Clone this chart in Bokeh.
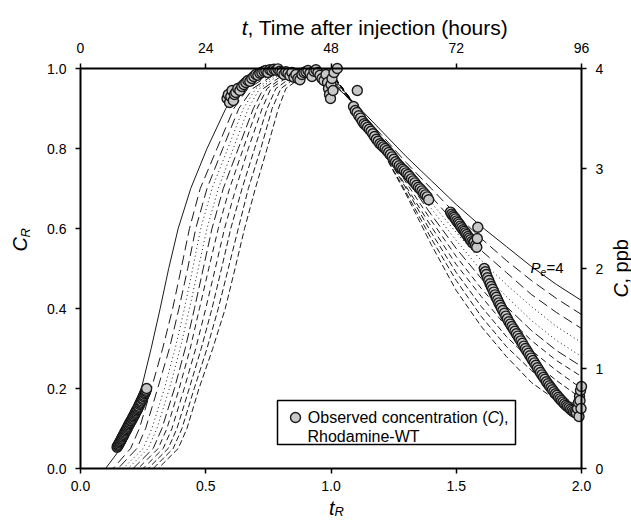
import math
from bokeh.plotting import figure
from bokeh.models import Range1d, LinearAxis, FixedTicker, PrintfTickFormatter, Label
from bokeh.embed import file_html
from bokeh.resources import INLINE

# ---------------- data ----------------
x_ticks = [0.0, 0.5, 1.0, 1.5, 2.0]
y_ticks = [0.0, 0.2, 0.4, 0.6, 0.8, 1.0]
hour_ticks = [0, 24, 48, 72, 96]
ppb_ticks = [0, 1, 2, 3, 4]

# model curves: x position at given C_R levels on the rising limb
rise_levels = [0.0, 0.05, 0.1, 0.2, 0.3, 0.4, 0.5, 0.6, 0.7, 0.8, 0.9, 0.95, 1.0]
rise_x = [
    [0.10, 0.16, 0.195, 0.243, 0.282, 0.318, 0.352, 0.390, 0.440, 0.505, 0.580, 0.645, 0.790],
    [0.13, 0.20, 0.235, 0.283, 0.328, 0.368, 0.402, 0.435, 0.478, 0.545, 0.612, 0.668, 0.800],
    [0.15, 0.225, 0.26, 0.308, 0.355, 0.393, 0.428, 0.460, 0.505, 0.568, 0.632, 0.688, 0.810],
    [0.17, 0.25, 0.285, 0.335, 0.378, 0.415, 0.448, 0.480, 0.525, 0.588, 0.650, 0.700, 0.820],
    [0.19, 0.27, 0.305, 0.355, 0.398, 0.435, 0.470, 0.505, 0.550, 0.610, 0.670, 0.715, 0.830],
    [0.21, 0.29, 0.325, 0.375, 0.418, 0.455, 0.490, 0.525, 0.570, 0.630, 0.690, 0.730, 0.845],
    [0.23, 0.31, 0.345, 0.394, 0.438, 0.475, 0.512, 0.550, 0.595, 0.650, 0.705, 0.745, 0.860],
    [0.25, 0.33, 0.365, 0.414, 0.460, 0.500, 0.538, 0.575, 0.620, 0.670, 0.725, 0.760, 0.875],
    [0.27, 0.35, 0.385, 0.434, 0.482, 0.525, 0.563, 0.600, 0.645, 0.695, 0.745, 0.780, 0.890],
    [0.29, 0.37, 0.405, 0.454, 0.505, 0.550, 0.590, 0.630, 0.670, 0.720, 0.765, 0.800, 0.910],
    [0.31, 0.39, 0.425, 0.473, 0.528, 0.578, 0.617, 0.655, 0.698, 0.745, 0.790, 0.820, 0.930],
]
# falling limb: C_R at fixed t_R
fall_x = [1.0, 1.1, 1.2, 1.3, 1.4, 1.5, 1.6, 1.7, 1.8, 1.9, 2.0]
fall_y = [
    [0.965, 0.91, 0.845, 0.78, 0.72, 0.66, 0.605, 0.555, 0.505, 0.46, 0.42],
    [0.97, 0.905, 0.835, 0.765, 0.70, 0.635, 0.575, 0.52, 0.47, 0.425, 0.385],
    [0.975, 0.905, 0.83, 0.755, 0.68, 0.61, 0.545, 0.49, 0.435, 0.39, 0.35],
    [0.98, 0.905, 0.825, 0.745, 0.665, 0.59, 0.52, 0.46, 0.405, 0.355, 0.315],
    [0.98, 0.905, 0.82, 0.735, 0.65, 0.57, 0.495, 0.43, 0.37, 0.32, 0.28],
    [0.985, 0.905, 0.815, 0.725, 0.635, 0.55, 0.475, 0.405, 0.345, 0.295, 0.255],
    [0.985, 0.905, 0.81, 0.715, 0.62, 0.53, 0.45, 0.38, 0.32, 0.27, 0.23],
    [0.99, 0.905, 0.805, 0.705, 0.605, 0.51, 0.43, 0.355, 0.295, 0.245, 0.20],
    [0.99, 0.905, 0.805, 0.70, 0.59, 0.49, 0.405, 0.33, 0.27, 0.22, 0.175],
    [0.99, 0.905, 0.80, 0.69, 0.575, 0.47, 0.38, 0.305, 0.245, 0.19, 0.15],
    [0.99, 0.905, 0.80, 0.685, 0.56, 0.445, 0.355, 0.28, 0.215, 0.17, 0.13],
]
curve_dash = ["solid", "10 5", "10 5", "1 3", "1 3", "10 4", "6 4", "6 4", "6 3", "6 3", "6 3"]

# observed concentrations (Rhodamine-WT), normalised
obs_a_x = [0.146, 0.148, 0.151, 0.153, 0.156, 0.158, 0.161, 0.163, 0.166, 0.168, 0.171, 0.173, 0.176,
           0.178, 0.181, 0.183, 0.186, 0.188, 0.191, 0.193, 0.196, 0.198, 0.201, 0.203, 0.206, 0.208,
           0.211, 0.213, 0.216, 0.218, 0.221, 0.223, 0.226, 0.228, 0.231, 0.233, 0.236, 0.238, 0.241,
           0.243, 0.246, 0.248, 0.251, 0.253, 0.256, 0.258, 0.260, 0.262, 0.264]
obs_a_y = [0.053, 0.056, 0.058, 0.061, 0.064, 0.067, 0.070, 0.073, 0.076, 0.079, 0.082, 0.085, 0.088,
           0.091, 0.094, 0.097, 0.100, 0.103, 0.106, 0.109, 0.112, 0.115, 0.118, 0.120, 0.123, 0.126,
           0.129, 0.132, 0.135, 0.138, 0.141, 0.144, 0.147, 0.150, 0.153, 0.156, 0.160, 0.163, 0.166,
           0.169, 0.173, 0.176, 0.180, 0.183, 0.187, 0.190, 0.193, 0.196, 0.200]
obs_b_x = [0.585, 0.590, 0.595, 0.600, 0.605, 0.610, 0.615, 0.620,
           0.628, 0.636, 0.644, 0.652, 0.660, 0.668, 0.676, 0.684, 0.692, 0.700, 0.708, 0.716, 0.724,
           0.732, 0.740, 0.748, 0.756, 0.764, 0.772, 0.780, 0.788, 0.796, 0.804, 0.812, 0.820, 0.828,
           0.836, 0.844, 0.852, 0.860, 0.868, 0.876, 0.884, 0.892, 0.900, 0.908, 0.916, 0.924, 0.932,
           0.940, 0.948, 0.956, 0.964, 0.972, 0.980,
           0.986, 0.990, 0.994, 0.998, 1.000, 1.004, 1.008, 1.012, 1.025, 1.105]
obs_b_y = [0.925, 0.935, 0.915, 0.930, 0.945, 0.920, 0.935, 0.940,
           0.950, 0.945, 0.955, 0.960, 0.965, 0.970, 0.968, 0.975, 0.980, 0.985, 0.983, 0.988, 0.990,
           0.993, 0.995, 0.990, 0.997, 0.995, 0.998, 0.996, 0.999, 0.993, 0.990, 0.985, 0.992, 0.988,
           0.982, 0.990, 0.978, 0.985, 0.975, 0.972, 0.985, 0.990, 0.992, 0.995, 0.988, 0.980, 0.993,
           0.997, 0.990, 0.983, 0.975, 0.970, 0.985,
           0.965, 0.950, 0.935, 0.925, 0.960, 0.975, 0.945, 0.990, 1.000, 0.945]
obs_c_x = [1.090, 1.097, 1.104, 1.111, 1.118, 1.125, 1.132, 1.139, 1.146, 1.153, 1.160, 1.167, 1.174,
           1.181, 1.188, 1.195, 1.202, 1.209, 1.216, 1.223, 1.230, 1.237, 1.244, 1.251, 1.258, 1.265,
           1.272, 1.279, 1.286, 1.293, 1.300, 1.307, 1.314, 1.321, 1.328, 1.335, 1.342, 1.349, 1.356,
           1.363, 1.370, 1.377, 1.384, 1.390]
obs_c_y = [0.905, 0.895, 0.890, 0.882, 0.876, 0.868, 0.862, 0.858, 0.853, 0.848, 0.843, 0.837, 0.830,
           0.823, 0.818, 0.812, 0.808, 0.804, 0.800, 0.795, 0.790, 0.785, 0.779, 0.773, 0.767, 0.762,
           0.757, 0.752, 0.748, 0.744, 0.739, 0.735, 0.730, 0.724, 0.719, 0.714, 0.708, 0.703, 0.699,
           0.694, 0.689, 0.684, 0.679, 0.672]
obs_d_x = [1.477, 1.482, 1.487, 1.492, 1.497, 1.502, 1.507, 1.512, 1.517, 1.522, 1.527, 1.532, 1.537,
           1.542, 1.547, 1.552, 1.557, 1.562, 1.567, 1.572, 1.577, 1.582, 1.584, 1.586]
obs_d_y = [0.641, 0.636, 0.632, 0.628, 0.624, 0.619, 0.615, 0.611, 0.606, 0.602, 0.597, 0.593, 0.589,
           0.585, 0.580, 0.576, 0.572, 0.567, 0.563, 0.566, 0.558, 0.553, 0.575, 0.603]
obs_e_x = [1.612, 1.616, 1.620, 1.625, 1.630, 1.635, 1.640, 1.645, 1.650, 1.655, 1.660, 1.665, 1.670,
           1.675, 1.680, 1.686, 1.692, 1.698, 1.704, 1.710, 1.716, 1.722, 1.728, 1.734, 1.740, 1.746,
           1.752, 1.758, 1.764, 1.770, 1.776, 1.782, 1.788, 1.794, 1.800, 1.806, 1.812, 1.818, 1.824,
           1.830, 1.836, 1.842, 1.848, 1.854, 1.860, 1.866, 1.872, 1.878, 1.884, 1.890, 1.896, 1.902,
           1.908, 1.914, 1.920, 1.926, 1.932, 1.938, 1.944, 1.950, 1.956, 1.962, 1.968, 1.974, 1.980,
           1.984, 1.988, 1.992, 1.996, 2.000, 1.994, 1.990, 1.998]
obs_e_y = [0.500, 0.492, 0.485, 0.477, 0.470, 0.462, 0.455, 0.448, 0.441, 0.434, 0.428, 0.421, 0.414,
           0.408, 0.402, 0.395, 0.388, 0.381, 0.374, 0.367, 0.361, 0.355, 0.349, 0.343, 0.337, 0.331,
           0.325, 0.319, 0.313, 0.306, 0.300, 0.294, 0.288, 0.282, 0.276, 0.270, 0.264, 0.258, 0.252,
           0.246, 0.240, 0.234, 0.228, 0.223, 0.217, 0.212, 0.207, 0.202, 0.197, 0.192, 0.187, 0.183,
           0.178, 0.174, 0.170, 0.166, 0.162, 0.158, 0.155, 0.152, 0.148, 0.145, 0.142, 0.140, 0.138,
           0.150, 0.165, 0.180, 0.195, 0.205, 0.170, 0.130, 0.150]

# ---------------- layout (canvas pixels) ----------------
FONT = "Liberation Sans"
W, H = 631, 521
FL, FR, FT, FB = 80, 581, 68, 468          # frame of the chart on the canvas
SX = (FR - FL) / 2.0                        # px per t_R unit
SY = (FB - FT) / 1.0                        # px per C_R unit
HOURS_PER_TR = 48.0
PPB_PER_CR = 4.0

x0, x1 = -FL / SX, (W - FL) / SX
y0, y1 = -(H - FB) / SY, FB / SY

p = figure(width=W, height=H, x_range=Range1d(x0, x1), y_range=Range1d(y0, y1),
           x_axis_type=None, y_axis_type=None, output_backend="svg", toolbar_location=None,
           min_border=0, background_fill_color="white", border_fill_color="white")
p.outline_line_color = None
p.extra_x_ranges = {"hours": Range1d(x0 * HOURS_PER_TR, x1 * HOURS_PER_TR)}
p.extra_y_ranges = {"ppb": Range1d(y0 * PPB_PER_CR, y1 * PPB_PER_CR)}


def style(ax, ticks, fmt, standoff):
    ax.ticker = FixedTicker(ticks=ticks, minor_ticks=[])
    ax.formatter = PrintfTickFormatter(format=fmt)
    ax.major_tick_out = 5
    ax.major_tick_in = 0
    ax.minor_tick_out = 0
    ax.minor_tick_in = 0
    ax.axis_line_width = 2
    ax.axis_line_color = "black"
    ax.major_tick_line_width = 1.5
    ax.major_tick_line_color = "black"
    ax.major_label_text_font = FONT
    ax.major_label_text_font_size = "14px"
    ax.major_label_text_color = "black"
    ax.major_label_standoff = standoff


ax_b = LinearAxis(fixed_location=0.0, bounds=(x_ticks[0], x_ticks[-1]))
style(ax_b, x_ticks, "%.1f", 7)
p.add_layout(ax_b, "below")
ax_l = LinearAxis(fixed_location=0.0, bounds=(y_ticks[0], y_ticks[-1]))
style(ax_l, y_ticks, "%.1f", 9)
p.add_layout(ax_l, "left")
ax_t = LinearAxis(x_range_name="hours", fixed_location=1.0, bounds=(hour_ticks[0], hour_ticks[-1]))
style(ax_t, hour_ticks, "%d", 11)
p.add_layout(ax_t, "above")
ax_r = LinearAxis(y_range_name="ppb", fixed_location=2.0, bounds=(ppb_ticks[0], ppb_ticks[-1]))
style(ax_r, ppb_ticks, "%d", 9)
p.add_layout(ax_r, "right")

# model curves
for rx, fy, dash in zip(rise_x, fall_y, curve_dash):
    xs = [0.04] + list(rx) + list(fall_x)
    ys = [0.0] + list(rise_levels) + list(fy)
    p.line(xs, ys, line_color="black", line_width=0.9, line_dash=dash)

# observed points
ox = obs_a_x + obs_b_x + obs_c_x + obs_d_x + obs_e_x
oy = obs_a_y + obs_b_y + obs_c_y + obs_d_y + obs_e_y
p.scatter(ox, oy, size=10, marker="circle", fill_color="#c8c8c8", line_color="#1a1a1a", line_width=1.4)


# helpers converting canvas pixels to data coordinates (for text placement only)
def dx(px):
    return (px - FL) / SX


def dy(py):
    return (FB - py) / SY


def lab(px, py, text, size, italic=False, angle=0.0, baseline="alphabetic", align="left"):
    p.add_layout(Label(x=dx(px), y=dy(py), text=text, text_font=FONT, text_font_size=size,
                       text_font_style="italic" if italic else "normal", text_color="black",
                       text_align=align, text_baseline=baseline, angle=angle))


# top axis title
lab(247, 27, "t", "21px", italic=True, align="right")
lab(247, 27, ", Time after injection (hours)", "21px")
# bottom axis title
lab(334, 507, "t", "20px", italic=True, align="right")
lab(334, 511, "R", "13px", italic=True)
# left axis title (rotated, reading upward)
lab(19, 251, "C", "20px", italic=True, angle=math.pi / 2, baseline="middle")
lab(25, 237, "R", "13px", italic=True, angle=math.pi / 2, baseline="middle")
# right axis title (rotated, reading upward)
lab(620, 297, "C", "20px", italic=True, angle=math.pi / 2, baseline="middle")
lab(620, 283, ", ppb", "20px", angle=math.pi / 2, baseline="middle")
# Pe label
lab(540, 267, "P", "15px", italic=True, align="right")
lab(540, 271, "e", "10px", italic=True)
lab(546, 267, "=4", "15px")

# legend box
p.quad(left=[dx(277)], right=[dx(515)], top=[dy(400)], bottom=[dy(444)],
       fill_color="white", line_color="black", line_width=1.5)
p.scatter([dx(295)], [dy(417)], size=10, marker="circle", fill_color="#c8c8c8",
          line_color="#1a1a1a", line_width=1.4)
lab(508, 417, "),", "16px", baseline="middle", align="right")
lab(498.5, 417, "C", "16px", italic=True, baseline="middle", align="right")
lab(487, 417, "Observed concentration (", "16px", baseline="middle", align="right")
lab(307, 436, "Rhodamine-WT", "16px", baseline="middle")

open("out.html", "w").write(file_html(p, INLINE))
